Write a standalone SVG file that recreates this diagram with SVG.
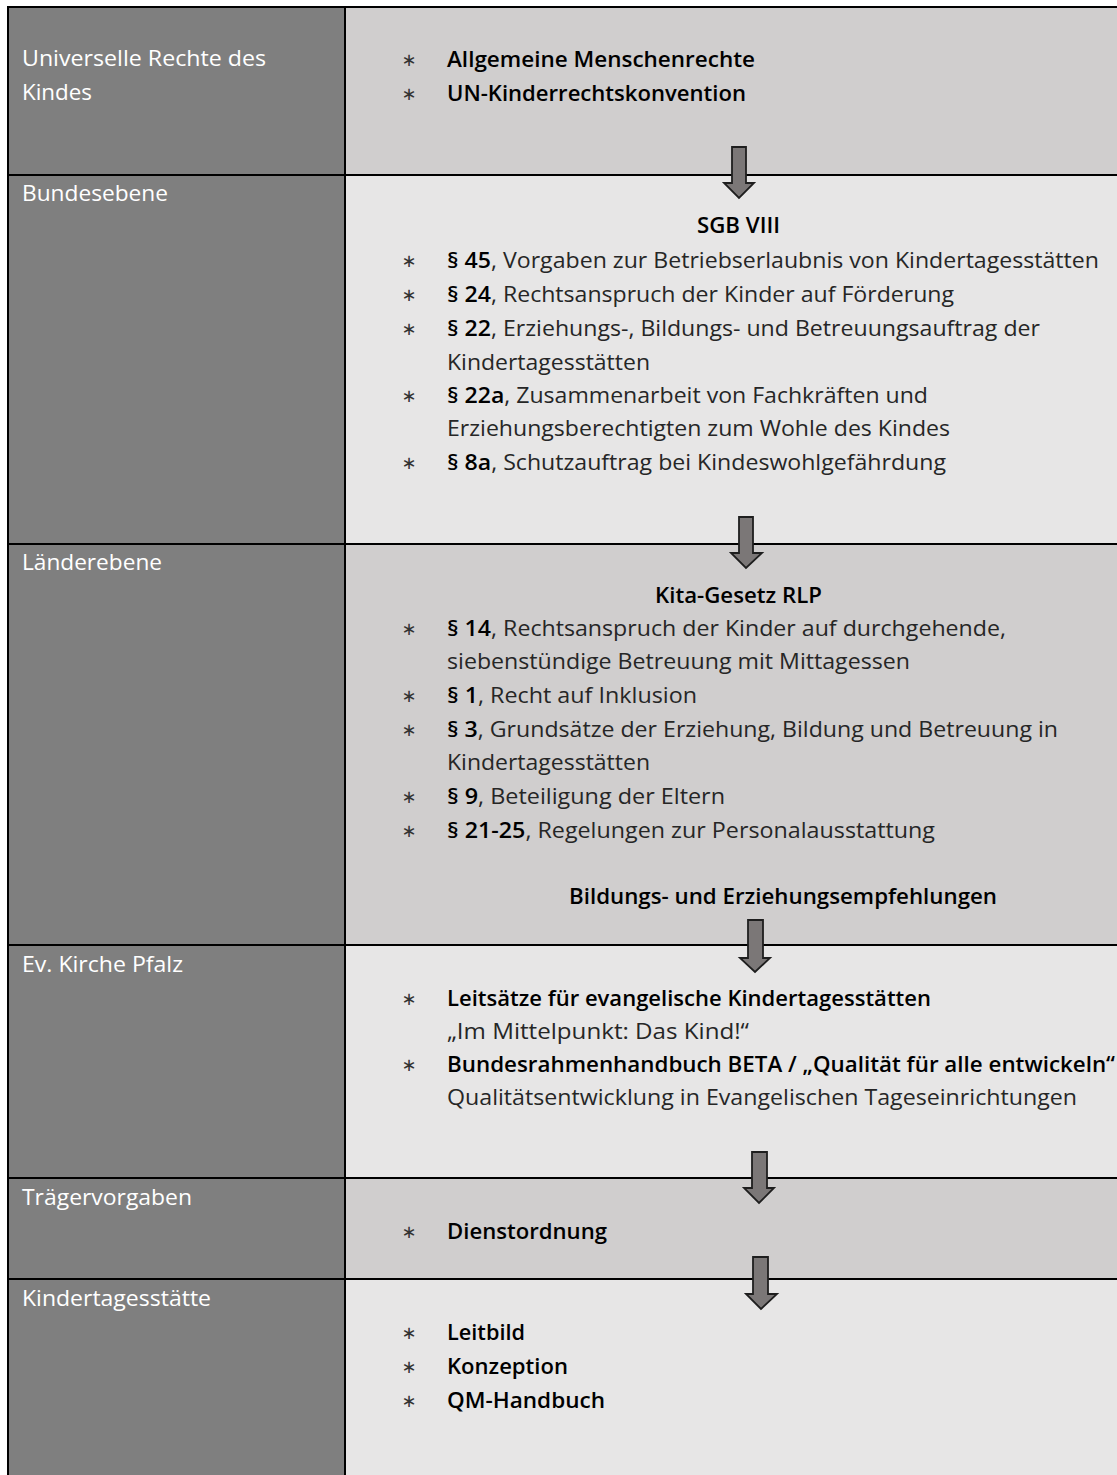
<svg xmlns="http://www.w3.org/2000/svg" width="1117" height="1475" viewBox="0 0 1117 1475">
<style>
.lab{font-family:"Open Sans","Noto Sans","Liberation Sans",sans-serif;font-size:21px;fill:#ffffff}
.t{font-family:"Open Sans","Noto Sans","Liberation Sans",sans-serif;font-size:21px;fill:#262626}
.b{font-weight:600;fill:#000000}
.bul{font-family:"DejaVu Sans",sans-serif;font-size:18px;fill:#333333;text-anchor:middle}
.grid{stroke:#000000;stroke-width:2;fill:none}
.arr{fill:#7b7777;stroke:#1e1e1e;stroke-width:1.8;stroke-linejoin:miter}
</style>
<rect width="1117" height="1475" fill="#ffffff"/>
<g id="row1">
<rect x="8" y="7" width="337" height="168" fill="#7f7f7f"/>
<rect x="345" y="7" width="772" height="168" fill="#d0cece"/>
<text class="lab" x="22" y="66" textLength="244" lengthAdjust="spacingAndGlyphs">Universelle Rechte des</text>
<text class="lab" x="22" y="100" textLength="70" lengthAdjust="spacingAndGlyphs">Kindes</text>
<text class="bul" x="409" y="66">∗</text>
<text class="bul" x="409" y="100">∗</text>
<text class="t b" x="447" y="67" textLength="308" lengthAdjust="spacingAndGlyphs">Allgemeine Menschenrechte</text>
<text class="t b" x="447" y="101" textLength="299" lengthAdjust="spacingAndGlyphs">UN-Kinderrechtskonvention</text>
</g>
<g id="row2">
<rect x="8" y="175" width="337" height="369" fill="#7f7f7f"/>
<rect x="345" y="175" width="772" height="369" fill="#e7e6e6"/>
<text class="lab" x="22" y="201" textLength="146" lengthAdjust="spacingAndGlyphs">Bundesebene</text>
<text class="t b" x="697" y="233" textLength="83" lengthAdjust="spacingAndGlyphs">SGB VIII</text>
<text class="bul" x="409" y="267">∗</text>
<text class="bul" x="409" y="301">∗</text>
<text class="bul" x="409" y="335">∗</text>
<text class="bul" x="409" y="402">∗</text>
<text class="bul" x="409" y="469">∗</text>
<text class="t" x="447" y="268" textLength="652" lengthAdjust="spacingAndGlyphs"><tspan class="b">§ 45</tspan>, Vorgaben zur Betriebserlaubnis von Kindertagesstätten</text>
<text class="t" x="447" y="302" textLength="507" lengthAdjust="spacingAndGlyphs"><tspan class="b">§ 24</tspan>, Rechtsanspruch der Kinder auf Förderung</text>
<text class="t" x="447" y="336" textLength="593" lengthAdjust="spacingAndGlyphs"><tspan class="b">§ 22</tspan>, Erziehungs-, Bildungs- und Betreuungsauftrag der</text>
<text class="t" x="447" y="370" textLength="203" lengthAdjust="spacingAndGlyphs">Kindertagesstätten</text>
<text class="t" x="447" y="403" textLength="481" lengthAdjust="spacingAndGlyphs"><tspan class="b">§ 22a</tspan>, Zusammenarbeit von Fachkräften und</text>
<text class="t" x="447" y="436" textLength="503" lengthAdjust="spacingAndGlyphs">Erziehungsberechtigten zum Wohle des Kindes</text>
<text class="t" x="447" y="470" textLength="499" lengthAdjust="spacingAndGlyphs"><tspan class="b">§ 8a</tspan>, Schutzauftrag bei Kindeswohlgefährdung</text>
</g>
<g id="row3">
<rect x="8" y="544" width="337" height="401" fill="#7f7f7f"/>
<rect x="345" y="544" width="772" height="401" fill="#d0cece"/>
<text class="lab" x="22" y="570" textLength="140" lengthAdjust="spacingAndGlyphs">Länderebene</text>
<text class="t b" x="655" y="603" textLength="167" lengthAdjust="spacingAndGlyphs">Kita-Gesetz RLP</text>
<text class="bul" x="409" y="635">∗</text>
<text class="bul" x="409" y="702">∗</text>
<text class="bul" x="409" y="736">∗</text>
<text class="bul" x="409" y="803">∗</text>
<text class="bul" x="409" y="837">∗</text>
<text class="t" x="447" y="636" textLength="559" lengthAdjust="spacingAndGlyphs"><tspan class="b">§ 14</tspan>, Rechtsanspruch der Kinder auf durchgehende,</text>
<text class="t" x="447" y="669" textLength="463" lengthAdjust="spacingAndGlyphs">siebenstündige Betreuung mit Mittagessen</text>
<text class="t" x="447" y="703" textLength="250" lengthAdjust="spacingAndGlyphs"><tspan class="b">§ 1</tspan>, Recht auf Inklusion</text>
<text class="t" x="447" y="737" textLength="611" lengthAdjust="spacingAndGlyphs"><tspan class="b">§ 3</tspan>, Grundsätze der Erziehung, Bildung und Betreuung in</text>
<text class="t" x="447" y="770" textLength="203" lengthAdjust="spacingAndGlyphs">Kindertagesstätten</text>
<text class="t" x="447" y="804" textLength="278" lengthAdjust="spacingAndGlyphs"><tspan class="b">§ 9</tspan>, Beteiligung der Eltern</text>
<text class="t" x="447" y="838" textLength="488" lengthAdjust="spacingAndGlyphs"><tspan class="b">§ 21-25</tspan>, Regelungen zur Personalausstattung</text>
<text class="t b" x="569" y="904" textLength="428" lengthAdjust="spacingAndGlyphs">Bildungs- und Erziehungsempfehlungen</text>
</g>
<g id="row4">
<rect x="8" y="945" width="337" height="233" fill="#7f7f7f"/>
<rect x="345" y="945" width="772" height="233" fill="#e7e6e6"/>
<text class="lab" x="22" y="972" textLength="161" lengthAdjust="spacingAndGlyphs">Ev. Kirche Pfalz</text>
<text class="bul" x="409" y="1005">∗</text>
<text class="bul" x="409" y="1071">∗</text>
<text class="t b" x="447" y="1006" textLength="484" lengthAdjust="spacingAndGlyphs">Leitsätze für evangelische Kindertagesstätten</text>
<text class="t" x="447" y="1039" textLength="302" lengthAdjust="spacingAndGlyphs">„Im Mittelpunkt: Das Kind!“</text>
<text class="t b" x="447" y="1072" textLength="668" lengthAdjust="spacingAndGlyphs">Bundesrahmenhandbuch BETA / „Qualität für alle entwickeln“</text>
<text class="t" x="447" y="1105" textLength="630" lengthAdjust="spacingAndGlyphs">Qualitätsentwicklung in Evangelischen Tageseinrichtungen</text>
</g>
<g id="row5">
<rect x="8" y="1178" width="337" height="101" fill="#7f7f7f"/>
<rect x="345" y="1178" width="772" height="101" fill="#d0cece"/>
<text class="lab" x="22" y="1205" textLength="170" lengthAdjust="spacingAndGlyphs">Trägervorgaben</text>
<text class="bul" x="409" y="1238">∗</text>
<text class="t b" x="447" y="1239" textLength="160" lengthAdjust="spacingAndGlyphs">Dienstordnung</text>
</g>
<g id="row6">
<rect x="8" y="1279" width="337" height="196" fill="#7f7f7f"/>
<rect x="345" y="1279" width="772" height="196" fill="#e7e6e6"/>
<text class="lab" x="22" y="1306" textLength="189" lengthAdjust="spacingAndGlyphs">Kindertagesstätte</text>
<text class="bul" x="409" y="1339">∗</text>
<text class="bul" x="409" y="1373">∗</text>
<text class="bul" x="409" y="1407">∗</text>
<text class="t b" x="447" y="1340" textLength="78" lengthAdjust="spacingAndGlyphs">Leitbild</text>
<text class="t b" x="447" y="1374" textLength="121" lengthAdjust="spacingAndGlyphs">Konzeption</text>
<text class="t b" x="447" y="1408" textLength="158" lengthAdjust="spacingAndGlyphs">QM-Handbuch</text>
</g>
<g id="grid">
<path class="grid" d="M8 7 H1117 M8 175 H1117 M8 544 H1117 M8 945 H1117 M8 1178 H1117 M8 1279 H1117 M8 6 V1475 M345 7 V1475"/>
</g>
<g id="connectors">
<polygon class="arr" points="732,147 746,147 746,183 754,183 739,198 724,183 732,183"/>
<polygon class="arr" points="739,517 753,517 753,553 762,553 746,568 731,553 739,553"/>
<polygon class="arr" points="748,920 763,920 763,958 770,958 755,972 740,958 748,958"/>
<polygon class="arr" points="752,1152 767,1152 767,1188 774,1188 759,1203 744,1188 752,1188"/>
<polygon class="arr" points="753,1257 768,1257 768,1294 777,1294 761,1309 746,1294 753,1294"/>
</g>
</svg>
